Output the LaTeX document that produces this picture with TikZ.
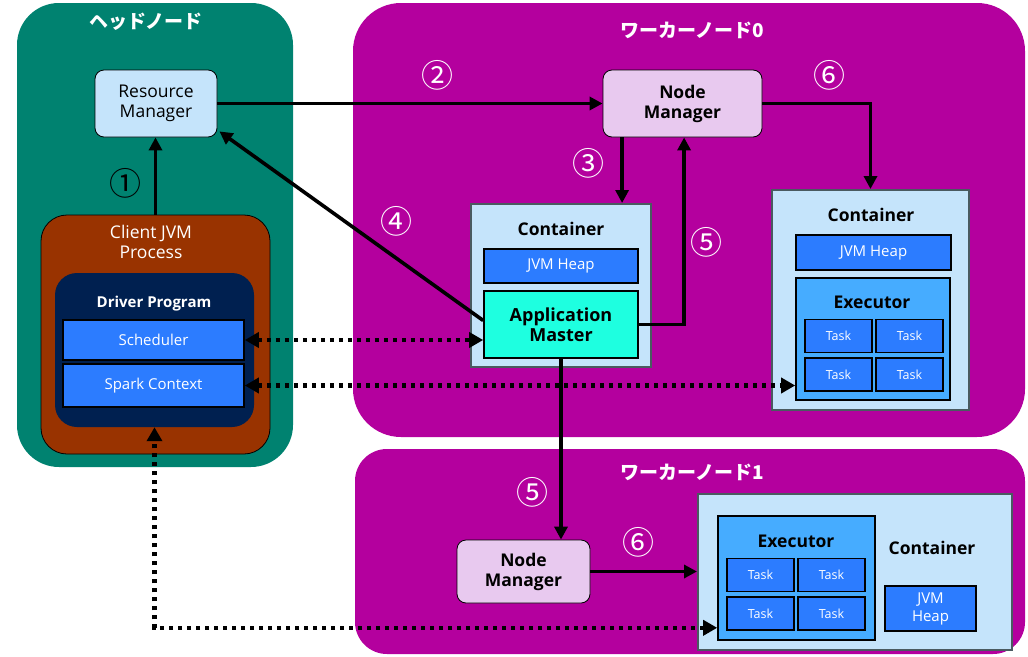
\documentclass[tikz,border=0pt]{standalone}
\usepackage{fontspec}
\setmainfont{Open Sans}
\newfontfamily\jp{Noto Sans CJK JP}
\usetikzlibrary{arrows.meta,calc}
\definecolor{headteal}{RGB}{0,130,112}
\definecolor{wmag}{RGB}{180,0,158}
\definecolor{cbrown}{RGB}{153,51,0}
\definecolor{dnavy}{RGB}{0,32,80}
\definecolor{lblue}{RGB}{197,228,251}
\definecolor{mblue}{RGB}{44,124,255}
\definecolor{eblue}{RGB}{70,172,255}
\definecolor{amcyan}{RGB}{30,255,224}
\definecolor{lav}{RGB}{232,201,239}
\definecolor{cgray}{RGB}{74,90,96}
\begin{document}
\begin{tikzpicture}[x=1pt,y=-1pt,
  every node/.style={inner sep=0pt,align=center},
  region/.style={fill=#1,draw=none},
  title/.style={text=white,font=\jp\bfseries\fontsize{19}{21}\selectfont},
  mgr/.style={fill=#1,draw=black,line width=0.8pt,rounded corners=9pt,font=\fontsize{17.5}{20}\selectfont},
  cont/.style={fill=lblue,draw=cgray,line width=2pt},
  bluebox/.style={fill=mblue,draw=black,line width=1.6pt,text=white,font=\fontsize{15}{18}\selectfont},
  taskbox/.style={fill=mblue,draw=black,line width=1.6pt,text=white,font=\fontsize{12.5}{14}\selectfont,minimum width=67pt,minimum height=33pt},
  hd/.style={font=\bfseries\fontsize{17.5}{20}\selectfont},
  num/.style={font=\jp\fontsize{32}{34}\selectfont,text=#1},
  arr/.style={line width=3.6pt,-{Triangle[length=13pt,width=13pt]}},
  dotarr/.style={line width=4.5pt,dash pattern=on 4.5pt off 4.5pt,{Triangle[length=14pt,width=15pt]}-{Triangle[length=14pt,width=15pt]}}
]
\useasboundingbox (0,0) rectangle (1028,656);
% regions
\node[region=headteal,rounded corners=42pt,minimum width=276pt,minimum height=464pt] (head) at (155,235) {};
\node[region=wmag,rounded corners=48pt,minimum width=672pt,minimum height=434pt] (w0) at (689,220) {};
\node[region=wmag,rounded corners=32pt,minimum width=670pt,minimum height=205pt] (w1) at (690,551.5) {};
\node[title] (headt) at (146,22) {ヘッドノード};
\node[title] (w0t) at (692,30) {ワーカーノード0};
\node[title] (w1t) at (692,472) {ワーカーノード1};
% head node content
\node[mgr=lblue,minimum width=122pt,minimum height=67pt] (rm) at (156,103.5) {Resource\\Manager};
\node[fill=cbrown,draw=black,line width=0.8pt,rounded corners=26pt,minimum width=229pt,minimum height=239pt] (cjvm) at (155.5,334.5) {};
\node[text=white,font=\fontsize{17.5}{20}\selectfont] (cjvmt) at (151,242) {Client JVM\\Process};
\node[fill=dnavy,draw=none,rounded corners=22pt,minimum width=199pt,minimum height=154pt] (drv) at (154.5,350) {};
\node[text=white,font=\bfseries\fontsize{15}{18}\selectfont] (drvt) at (154,304) {Driver Program};
\node[bluebox,minimum width=181pt,minimum height=40pt] (sched) at (153.5,340) {Scheduler};
\node[bluebox,minimum width=181pt,minimum height=43pt] (spark) at (153.5,385.5) {Spark Context};
% worker 0
\node[mgr=lav,hd,minimum width=159pt,minimum height=67pt] (nm0) at (682.5,103.5) {Node\\Manager};
\node[cont,minimum width=180pt,minimum height=163pt] (cam) at (561,285.5) {};
\node[hd] (camt) at (561,229) {Container};
\node[bluebox,minimum width=154pt,minimum height=34pt] (jvm1) at (561,266) {JVM Heap};
\node[fill=amcyan,draw=black,line width=1.6pt,font=\bfseries\fontsize{18}{20}\selectfont,minimum width=154pt,minimum height=67pt] (am) at (561,324.5) {Application\\Master};
\node[cont,minimum width=197pt,minimum height=220pt] (c0) at (870.5,300) {};
\node[hd] (c0t) at (871,215) {Container};
\node[bluebox,minimum width=155pt,minimum height=35pt] (jvm2) at (873.5,252.5) {JVM Heap};
\node[fill=eblue,draw=black,line width=1.6pt,minimum width=154pt,minimum height=122pt] (ex0) at (873,339) {};
\node[hd] (ex0t) at (872,302) {Executor};
\node[taskbox] (t01) at (838.5,336) {Task};
\node[taskbox] (t02) at (909.5,336) {Task};
\node[taskbox] (t03) at (838.5,374.5) {Task};
\node[taskbox] (t04) at (909.5,374.5) {Task};
% worker 1
\node[mgr=lav,hd,minimum width=133pt,minimum height=63pt] (nm1) at (523.5,571.5) {Node\\Manager};
\node[cont,minimum width=314pt,minimum height=156pt] (c1) at (855,572) {};
\node[fill=eblue,draw=black,line width=1.6pt,minimum width=157pt,minimum height=124pt] (ex1) at (796.5,578) {};
\node[hd] (ex1t) at (796,541) {Executor};
\node[taskbox] (t11) at (760.5,575) {Task};
\node[taskbox] (t12) at (831.5,575) {Task};
\node[taskbox] (t13) at (760.5,613.5) {Task};
\node[taskbox] (t14) at (831.5,613.5) {Task};
\node[hd] (c1t) at (932,548) {Container};
\node[bluebox,minimum width=91pt,minimum height=45pt] (jvm3) at (930.5,608.5) {JVM\\Heap};
% numbers
\node[num=black] (n1) at (125,183) {①};
\node[num=white] (n2) at (437,75) {②};
\node[num=white] (n3) at (588,163) {③};
\node[num=white] (n4) at (396,221) {④};
\node[num=white] (n5a) at (706,242) {⑤};
\node[num=white] (n6a) at (829,75) {⑥};
\node[num=white] (n5b) at (532,492) {⑤};
\node[num=white] (n6b) at (638,542) {⑥};
% arrows
\draw[arr] (cjvm.north) -- (cjvm.north |- rm.south);
\draw[arr] (rm.east) -- (nm0.west);
\draw[arr] (nm0.east) -| (c0.north);
\draw[arr] ([xshift=19.5pt]nm0.south west) -- ([xshift=19.5pt]nm0.south west |- cam.north);
\draw[arr] (am.east) -| ([xshift=81.5pt]nm0.south west);
\draw[arr] ([yshift=4pt]am.west) -- ([shift={(2,-6)}]rm.south east);
\draw[arr] (am.south) -- (am.south |- nm1.north);
\draw[arr] (nm1.east) -- (nm1.east -| c1.west);
\draw[dotarr] (sched.east) -- (sched.east -| am.west);
\draw[dotarr] (spark.east) -- (spark.east -| ex0.west);
\draw[dotarr] ([yshift=13pt]ex1.south west) -| (drv.south);
\end{tikzpicture}
\end{document}
